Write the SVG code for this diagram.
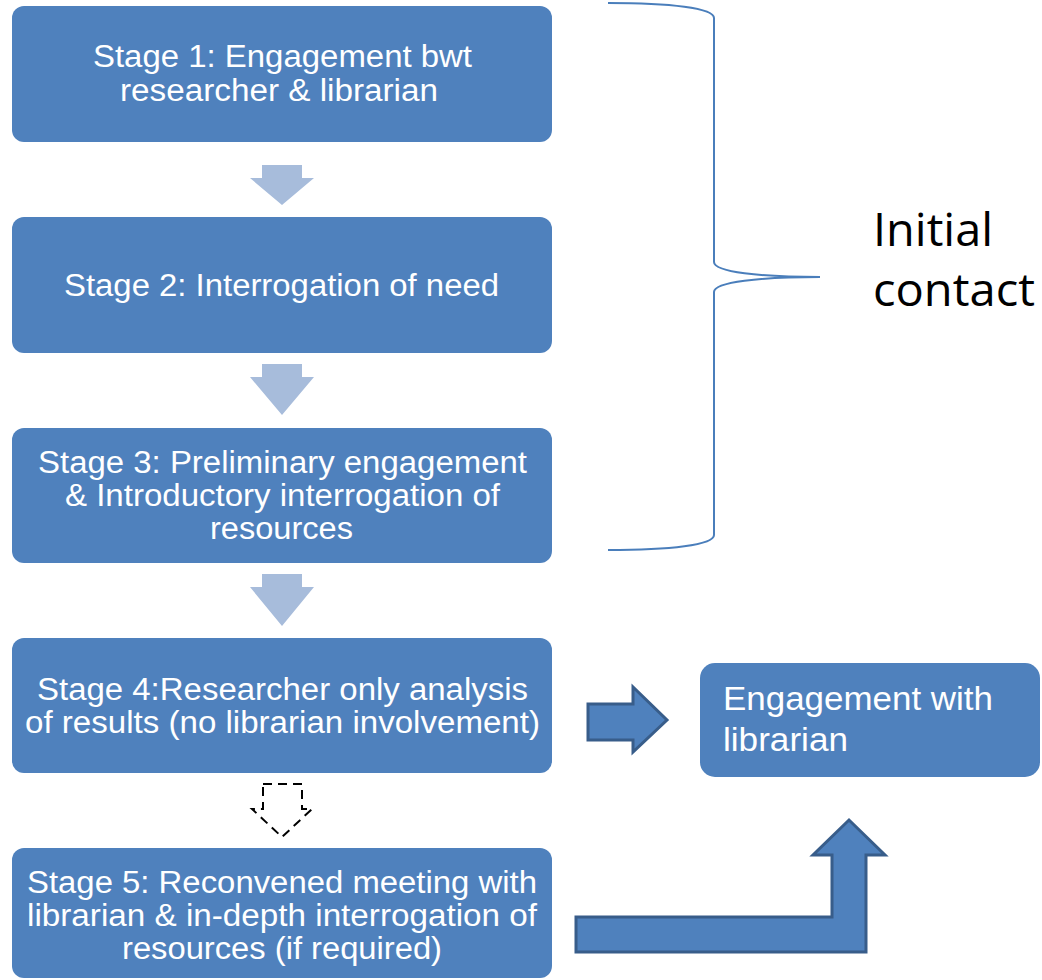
<svg xmlns="http://www.w3.org/2000/svg" width="1042" height="980" viewBox="0 0 1042 980">
<style>
.box{fill:#4F81BD;}
.t{font-family:"Liberation Sans",Arial,sans-serif;font-size:31px;fill:#FFFFFF;}
.lt{fill:#A7BCDB;}
.big{fill:#4F81BD;stroke:#385D8A;stroke-width:3;stroke-linejoin:miter;}
.dash{fill:#FFFFFF;stroke:#000000;stroke-width:2;stroke-dasharray:9,6;}
.brace{fill:none;stroke:#4A7EBB;stroke-width:2;}
.lbl{font-family:"Open Sans","Liberation Sans",sans-serif;font-size:46px;fill:#000000;}
</style>
<rect width="1042" height="980" fill="#FFFFFF"/>
<g id="stage1">
<rect class="box" x="12" y="6" width="540" height="136" rx="12"/>
<text class="t" x="93" y="67" textLength="379" lengthAdjust="spacingAndGlyphs">Stage 1: Engagement bwt</text>
<text class="t" x="120" y="101" textLength="318" lengthAdjust="spacingAndGlyphs">researcher &amp; librarian</text>
</g>
<g id="stage2">
<rect class="box" x="12" y="217" width="540" height="136" rx="12"/>
<text class="t" x="64" y="296" textLength="435" lengthAdjust="spacingAndGlyphs">Stage 2: Interrogation of need</text>
</g>
<g id="stage3">
<rect class="box" x="12" y="428" width="540" height="135" rx="12"/>
<text class="t" x="38" y="473" textLength="489" lengthAdjust="spacingAndGlyphs">Stage 3: Preliminary engagement</text>
<text class="t" x="65" y="506" textLength="435" lengthAdjust="spacingAndGlyphs">&amp; Introductory interrogation of</text>
<text class="t" x="210" y="539" textLength="143" lengthAdjust="spacingAndGlyphs">resources</text>
</g>
<g id="stage4">
<rect class="box" x="12" y="638" width="540" height="135" rx="12"/>
<text class="t" x="37" y="700" textLength="491" lengthAdjust="spacingAndGlyphs">Stage 4:Researcher only analysis</text>
<text class="t" x="25" y="733" textLength="515" lengthAdjust="spacingAndGlyphs">of results (no librarian involvement)</text>
</g>
<g id="stage5">
<rect class="box" x="12" y="848" width="540" height="130" rx="12"/>
<text class="t" x="27" y="893" textLength="510" lengthAdjust="spacingAndGlyphs">Stage 5: Reconvened meeting with</text>
<text class="t" x="27" y="926" textLength="510" lengthAdjust="spacingAndGlyphs">librarian &amp; in-depth interrogation of</text>
<text class="t" x="122" y="959" textLength="320" lengthAdjust="spacingAndGlyphs">resources (if required)</text>
</g>
<g id="engagement">
<rect class="box" x="700" y="663" width="340" height="114" rx="15"/>
<text class="t" x="723" y="710" style="font-size:34px" textLength="270" lengthAdjust="spacingAndGlyphs">Engagement with</text>
<text class="t" x="723" y="751" style="font-size:34px" textLength="125" lengthAdjust="spacingAndGlyphs">librarian</text>
</g>
<g id="initial-contact">
<path class="brace" d="M608,3 C670,3 714,8 714,18 L714,262 C714,272 760,277 820,277 C760,277 714,282 714,292 L714,535 C714,545 670,550 608,550"/>
<text class="lbl" x="873" y="246" textLength="120" lengthAdjust="spacingAndGlyphs">Initial</text>
<text class="lbl" x="873" y="306" textLength="162" lengthAdjust="spacingAndGlyphs">contact</text>
</g>
<g id="connectors">
<polygon class="lt" points="262,165 302,165 302,178 314,178 282,205 250,178 262,178"/>
<polygon class="lt" points="262,364 302,364 302,377 314,377 282,415 250,377 262,377"/>
<polygon class="lt" points="262,574 302,574 302,587 314,587 282,626 250,587 262,587"/>
<polygon class="dash" points="263,784 302,784 302,809 312,809 282,837 252,809 263,809"/>
<polygon class="big" points="588,704 633,704 633,687 667,720 633,752 633,740 588,740"/>
<polygon class="big" points="576,917 832,917 832,855 813,855 849,820 885,855 866,855 866,952 576,952"/>
</g>
</svg>
